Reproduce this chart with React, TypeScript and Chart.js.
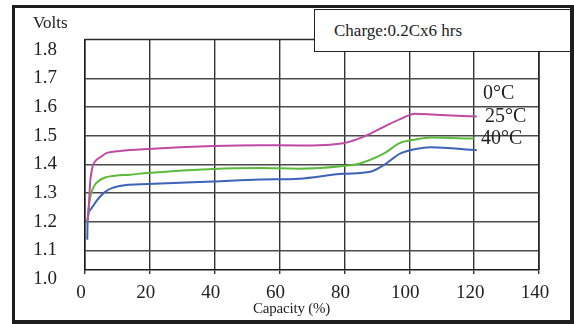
import React, { useEffect, useRef } from "react";
import { Chart, registerables } from "chart.js";

Chart.register(...registerables);

// Capacity (%) and voltage for each charge temperature
const capacity0C = [0.77, 1.23, 1.54, 2.0, 2.47, 3.4, 4.6, 6.8, 10.8, 19.4, 39.5, 54, 66, 79.6, 86, 92.5, 97, 101.8, 108, 120.8];
const volts0C = [1.2, 1.264, 1.33, 1.374, 1.397, 1.414, 1.424, 1.44, 1.447, 1.454, 1.464, 1.467, 1.466, 1.474, 1.497, 1.533, 1.557, 1.577, 1.573, 1.567];

const capacity25C = [0.77, 1.23, 1.85, 2.78, 4.0, 6.2, 9.25, 13.9, 19.4, 39.5, 54, 66, 79.6, 85, 92.5, 97, 102, 106.5, 120];
const volts25C = [1.2, 1.257, 1.297, 1.324, 1.34, 1.354, 1.36, 1.364, 1.37, 1.384, 1.387, 1.385, 1.394, 1.404, 1.44, 1.474, 1.487, 1.494, 1.49];

const capacity40C = [0.7, 0.8, 1.54, 2.47, 3.4, 4.6, 6.2, 8.3, 12.3, 19.4, 39.5, 54, 66, 79.6, 88, 92.5, 97, 102, 106.5, 120.8];
const volts40C = [1.137, 1.2, 1.24, 1.254, 1.27, 1.287, 1.304, 1.317, 1.327, 1.331, 1.34, 1.347, 1.35, 1.367, 1.374, 1.4, 1.437, 1.454, 1.46, 1.45];

const seriesLabels = ["0°C", "25°C", "40°C"];
const xTicks = [0, 20, 40, 60, 80, 100, 120, 140];
const yTicks = [1.0, 1.1, 1.2, 1.3, 1.4, 1.5, 1.6, 1.7, 1.8];

const FONT = "'Liberation Serif', 'Times New Roman', serif";

const toPoints = (xs: number[], ys: number[]) => xs.map((x, i) => ({ x, y: ys[i] }));

const framePlugin = {
  id: "frame",
  beforeDatasetsDraw(chart: any) {
    const { ctx, chartArea } = chart;
    const { left, top, right, bottom } = chartArea;
    ctx.save();
    ctx.strokeStyle = "#2a2a2a";
    ctx.lineWidth = 1.5;
    ctx.beginPath();
    ctx.moveTo(left, top);
    ctx.lineTo(right, top);
    ctx.lineTo(right, bottom);
    ctx.stroke();
    ctx.restore();
  },
};

function BatteryChart() {
  const ref = useRef<HTMLCanvasElement | null>(null);
  useEffect(() => {
    if (!ref.current) return;
    const colors = ["#bf4aa2", "#5cbb3c", "#3d63b9"];
    const chart = new Chart(ref.current, {
      type: "line",
      data: {
        datasets: [
          { label: seriesLabels[0], data: toPoints(capacity0C, volts0C) },
          { label: seriesLabels[1], data: toPoints(capacity25C, volts25C) },
          { label: seriesLabels[2], data: toPoints(capacity40C, volts40C) },
        ].map((d, i) => ({
          ...d,
          borderColor: colors[i],
          backgroundColor: colors[i],
          borderWidth: 2,
          pointRadius: 0,
          cubicInterpolationMode: "monotone" as const,
          fill: false,
        })),
      },
      options: {
        responsive: false,
        animation: false,
        layout: { padding: { left: 0, top: 28, right: 35, bottom: 0 } },
        plugins: { legend: { display: false }, tooltip: { enabled: false }, title: { display: false } },
        scales: {
          x: {
            type: "linear",
            min: 0,
            max: 140,
            afterBuildTicks: (axis: any) => {
              axis.ticks = xTicks.map((v) => ({ value: v }));
            },
            afterFit: (axis: any) => {
              axis.height = 54;
            },
            grid: { color: "#333", lineWidth: 1.4, drawTicks: true, tickLength: 4 },
            border: { display: true, color: "#1a1a1a", width: 1.5 },
            ticks: {
              autoSkip: false,
              maxRotation: 0,
              padding: 8,
              labelOffset: -4,
              color: "#222",
              font: { family: FONT, size: 19 },
              callback: (v: any) => String(v),
            },
          },
          y: {
            type: "linear",
            min: 1.031,
            max: 1.8365,
            afterBuildTicks: (axis: any) => {
              axis.ticks = yTicks.map((v) => ({ value: v }));
            },
            afterFit: (axis: any) => {
              axis.width = 85;
            },
            grid: {
              drawTicks: false,
              lineWidth: 1.4,
              color: (c: any) => {
                const v = c.tick ? c.tick.value : 0;
                return Math.abs(v - 1.0) < 1e-6 || Math.abs(v - 1.8) < 1e-6 ? "rgba(0,0,0,0)" : "#4a4a4a";
              },
            },
            border: { display: true, color: "#1a1a1a", width: 1.5 },
            ticks: {
              autoSkip: false,
              padding: 28,
              color: "#222",
              font: { family: FONT, size: 19 },
              callback: (v: any) => Number(v).toFixed(1),
            },
          },
        },
      },
      plugins: [framePlugin],
    });
    return () => chart.destroy();
  }, []);

  const text = (extra: React.CSSProperties): React.CSSProperties => ({
    position: "absolute",
    fontFamily: FONT,
    color: "#222",
    lineHeight: 1,
    whiteSpace: "nowrap",
    ...extra,
  });

  return (
    <div style={{ position: "absolute", left: 0, top: 0, width: 574, height: 324, background: "#fff", overflow: "hidden" }}>
      <canvas ref={ref} width={574} height={324} style={{ position: "absolute", left: 0, top: 0, width: 574, height: 324 }} />
      <div style={text({ left: 33, top: 14, fontSize: 17 })}>Volts</div>
      <div
        style={{
          position: "absolute",
          left: 314,
          top: 9,
          width: 257,
          height: 43,
          boxSizing: "border-box",
          border: "1.5px solid #222",
          background: "#fff",
        }}
      />
      <div style={text({ left: 334, top: 22, fontSize: 17 })}>Charge:0.2Cx6 hrs</div>
      <div style={text({ left: 483, top: 82, fontSize: 20 })}>{seriesLabels[0]}</div>
      <div style={text({ left: 485, top: 105, fontSize: 20 })}>{seriesLabels[1]}</div>
      <div style={text({ left: 481, top: 127, fontSize: 20 })}>{seriesLabels[2]}</div>
      <div style={text({ left: 253, top: 301, fontSize: 15, letterSpacing: -0.2 })}>Capacity (%)</div>
      <div
        style={{
          position: "absolute",
          left: 12,
          top: 5,
          width: 562,
          height: 319,
          boxSizing: "border-box",
          borderStyle: "solid",
          borderColor: "#1e1e1e",
          borderWidth: "3px 4px 4px 3px",
        }}
      />
    </div>
  );
}

export default function App() {
  return <BatteryChart />;
}
